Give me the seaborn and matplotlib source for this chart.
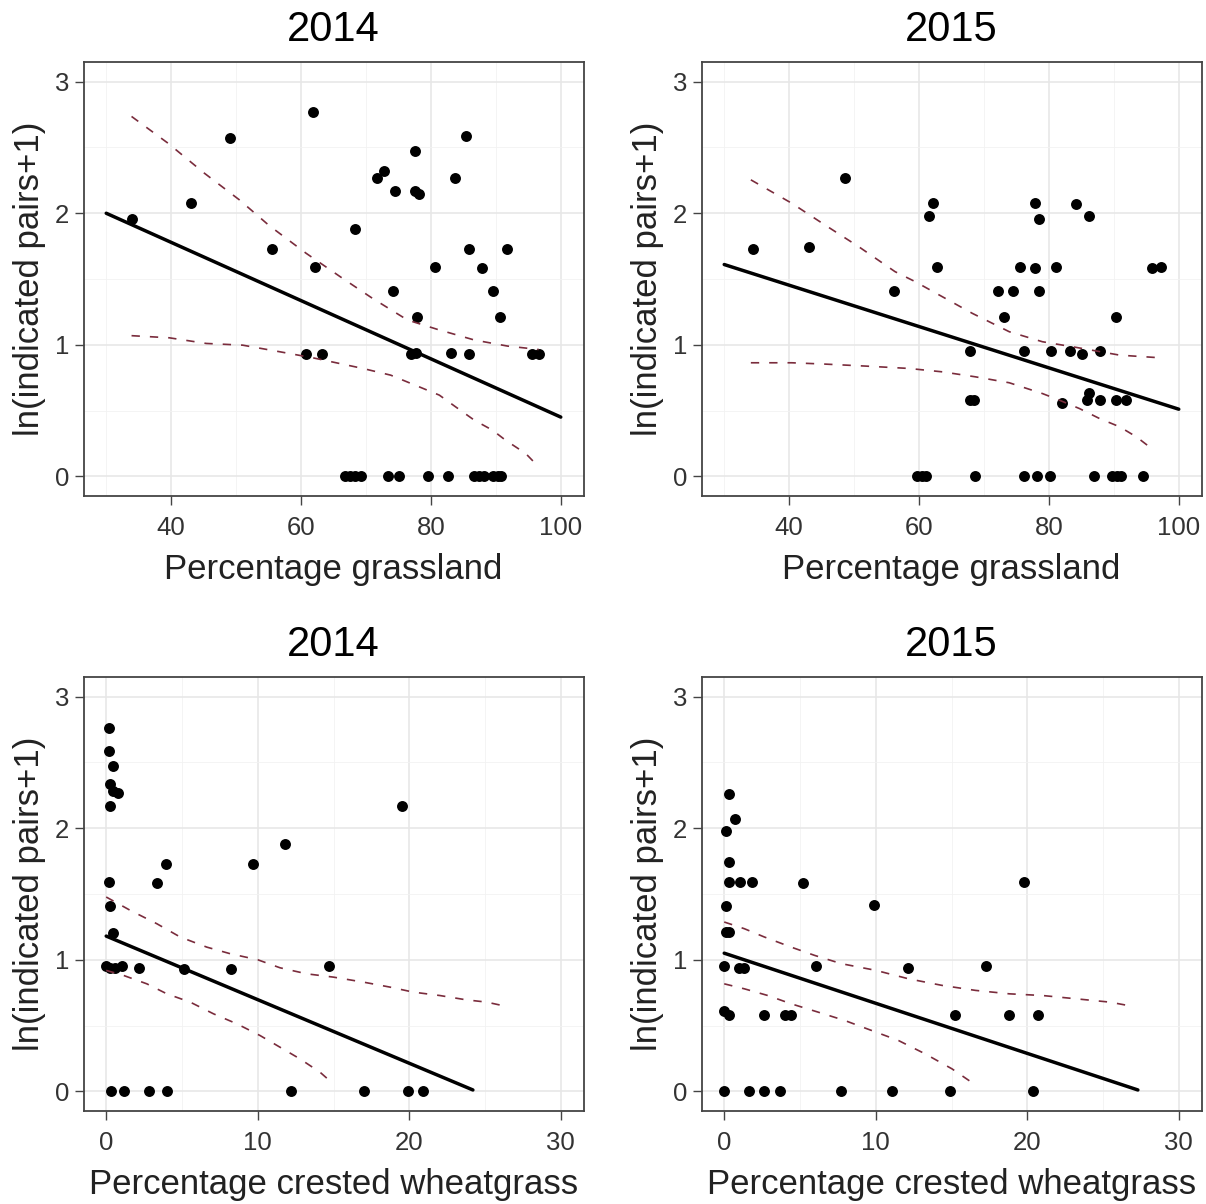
import numpy as np
import pandas as pd
import matplotlib
matplotlib.use("Agg")
import matplotlib.pyplot as plt
import seaborn as sns
from matplotlib.ticker import MultipleLocator

# ---------------- data ----------------
years = ["2014", "2015", "2014", "2015"]
x_labels = ["Percentage grassland", "Percentage grassland",
            "Percentage crested wheatgrass", "Percentage crested wheatgrass"]
y_label = "ln(indicated pairs+1)"

# 2014 - grassland
grass14_x = [33.9, 43.0, 49.1, 55.6, 61.8, 62.1, 60.8, 63.2, 68.3, 71.7, 72.7, 74.5, 74.1,
             77.6, 77.6, 78.1, 77.9, 76.9, 77.7, 80.7, 83.1, 83.7, 85.4, 85.8, 85.8, 87.8,
             89.5, 91.7, 90.6, 95.6, 96.6,
             66.8, 67.5, 68.3, 69.3, 73.4, 75.1, 79.5, 82.6, 86.7, 87.4, 88.1, 89.5, 90.3, 90.8]
grass14_y = [1.96, 2.08, 2.57, 1.73, 2.77, 1.59, 0.93, 0.93, 1.88, 2.27, 2.32, 2.17, 1.41,
             2.47, 2.17, 2.15, 1.21, 0.93, 0.94, 1.59, 0.94, 2.27, 2.59, 1.73, 0.93, 1.58,
             1.41, 1.73, 1.21, 0.93, 0.93,
             0, 0, 0, 0, 0, 0, 0, 0, 0, 0, 0, 0, 0, 0]
grass14_fit_x = [30, 100]
grass14_fit_y = [2.00, 0.45]
grass14_up_x = [33.9, 39.5, 45.1, 50.5, 55.1, 60.8, 66.4, 71.0, 76.4, 81.0, 86.7, 91.8, 96.6]
grass14_up_y = [2.736, 2.533, 2.305, 2.102, 1.906, 1.695, 1.505, 1.353, 1.188, 1.117, 1.036, 0.990, 0.964]
grass14_lo_x = [33.9, 39.7, 45.4, 51.0, 56.7, 61.8, 69.5, 73.8, 78.2, 81.3, 83.8, 86.7, 89.5, 91.5, 94.6, 96.6]
grass14_lo_y = [1.069, 1.053, 1.010, 0.997, 0.947, 0.901, 0.820, 0.769, 0.680, 0.617, 0.528, 0.426,
                0.350, 0.274, 0.173, 0.071]

# 2015 - grassland
grass15_x = [34.4, 43.0, 48.6, 56.2, 62.1, 61.6, 62.8, 67.9, 67.9, 68.5, 72.1, 74.4, 73.1,
             75.5, 76.2, 77.9, 78.4, 77.9, 78.4, 80.3, 81.1, 82.0, 83.3, 84.2, 85.1, 86.1,
             86.1, 85.9, 87.9, 87.9, 90.3, 90.3, 91.9, 95.8, 97.3,
             59.7, 60.5, 61.1, 68.6, 76.1, 78.2, 80.2, 86.9, 89.7, 90.5, 91.1, 94.5]
grass15_y = [1.73, 1.74, 2.27, 1.41, 2.08, 1.98, 1.59, 0.95, 0.58, 0.58, 1.41, 1.41, 1.21,
             1.59, 0.95, 2.08, 1.96, 1.58, 1.41, 0.95, 1.59, 0.56, 0.95, 2.07, 0.93, 1.98,
             0.63, 0.58, 0.95, 0.58, 1.21, 0.58, 0.58, 1.58, 1.59,
             0, 0, 0, 0, 0, 0, 0, 0, 0, 0, 0, 0]
grass15_fit_x = [30, 100]
grass15_fit_y = [1.61, 0.51]
grass15_up_x = [34.1, 40.4, 45.5, 50.7, 56.3, 59.4, 63.6, 68.2, 73.9, 79.0, 84.2, 90.9, 97.1]
grass15_up_y = [2.254, 2.076, 1.911, 1.746, 1.556, 1.480, 1.365, 1.239, 1.099, 1.023, 0.980, 0.921, 0.901]
grass15_lo_x = [34.1, 40.4, 45.5, 51.7, 58.4, 63.6, 68.7, 73.9, 79.0, 81.6, 84.7, 87.8, 90.9, 93.5, 95.5]
grass15_lo_y = [0.863, 0.863, 0.853, 0.838, 0.820, 0.794, 0.756, 0.711, 0.629, 0.579, 0.515, 0.439,
                0.376, 0.299, 0.223]

# 2014 - crested wheatgrass
wheat14_x = [0.18, 0.18, 0.44, 0.26, 0.48, 0.79, 0.26, 19.5, 11.8, 9.67, 3.96, 3.38, 0.18,
             0.26, 0.44, 0.0, 0.26, 0.59, 1.03, 2.15, 5.14, 8.24, 14.7,
             0.31, 1.19, 2.79, 3.98, 12.2, 17.0, 19.9, 20.9]
wheat14_y = [2.76, 2.59, 2.47, 2.34, 2.28, 2.27, 2.17, 2.17, 1.88, 1.73, 1.73, 1.58, 1.59,
             1.41, 1.20, 0.95, 0.94, 0.94, 0.95, 0.94, 0.93, 0.93, 0.95,
             0, 0, 0, 0, 0, 0, 0, 0]
wheat14_fit_x = [0, 24.2]
wheat14_fit_y = [1.18, 0.01]
wheat14_up_x = [0, 1.58, 3.34, 4.88, 6.64, 8.18, 10.0, 11.47, 13.23, 14.99, 16.97, 18.73, 20.26,
                22.02, 23.78, 25.10, 26.42]
wheat14_up_y = [1.477, 1.376, 1.274, 1.173, 1.096, 1.046, 1.000, 0.939, 0.893, 0.868, 0.830, 0.792,
                0.754, 0.728, 0.695, 0.678, 0.645]
wheat14_lo_x = [0, 1.14, 2.68, 4.0, 5.54, 7.08, 8.62, 10.15, 11.47, 12.79, 14.11, 14.99]
wheat14_lo_y = [0.919, 0.881, 0.817, 0.741, 0.678, 0.589, 0.513, 0.424, 0.335, 0.246, 0.145, 0.056]

# 2015 - crested wheatgrass
wheat15_x = [0.31, 0.71, 0.13, 0.31, 0.31, 1.06, 1.81, 5.2, 0.13, 19.8, 9.89, 0.13, 0.31,
             0.0, 1.0, 1.33, 6.04, 12.1, 17.3, 0.0, 0.31, 2.65, 3.98, 4.38, 15.2, 18.8, 20.7,
             0.0, 1.64, 2.65, 3.67, 7.7, 11.06, 14.9, 20.4]
wheat15_y = [2.26, 2.07, 1.98, 1.74, 1.59, 1.59, 1.59, 1.58, 1.41, 1.59, 1.42, 1.21, 1.21,
             0.95, 0.94, 0.94, 0.95, 0.94, 0.95, 0.61, 0.58, 0.58, 0.58, 0.58, 0.58, 0.58, 0.58,
             0, 0, 0, 0, 0, 0, 0, 0]
wheat15_fit_x = [0, 27.3]
wheat15_fit_y = [1.05, 0.01]
wheat15_up_x = [0, 1.33, 2.65, 4.42, 5.97, 7.74, 10.02, 12.17, 14.38, 16.59, 18.81, 21.02, 23.23,
                25.44, 26.99]
wheat15_up_y = [1.287, 1.236, 1.173, 1.096, 1.033, 0.970, 0.919, 0.855, 0.805, 0.767, 0.741, 0.728,
                0.703, 0.678, 0.645]
wheat15_lo_x = [0, 1.33, 2.88, 4.42, 6.19, 7.96, 9.73, 11.5, 13.27, 15.04, 16.48]
wheat15_lo_y = [0.817, 0.779, 0.728, 0.665, 0.602, 0.538, 0.462, 0.386, 0.284, 0.170, 0.056]

panels = [
    (grass14_x, grass14_y, grass14_fit_x, grass14_fit_y, grass14_up_x, grass14_up_y, grass14_lo_x, grass14_lo_y),
    (grass15_x, grass15_y, grass15_fit_x, grass15_fit_y, grass15_up_x, grass15_up_y, grass15_lo_x, grass15_lo_y),
    (wheat14_x, wheat14_y, wheat14_fit_x, wheat14_fit_y, wheat14_up_x, wheat14_up_y, wheat14_lo_x, wheat14_lo_y),
    (wheat15_x, wheat15_y, wheat15_fit_x, wheat15_fit_y, wheat15_up_x, wheat15_up_y, wheat15_lo_x, wheat15_lo_y),
]

# ---------------- style ----------------
sns.set_theme(style="whitegrid")
plt.rcParams['font.family'] = ['Liberation Sans', 'DejaVu Sans']

W, H = 1206, 1204
fig = plt.figure(figsize=(W / 100, H / 100), dpi=100)

# panel boxes in pixels: left, top, right, bottom
boxes = [(83.5, 62, 583.5, 496), (701.5, 62, 1201.5, 496),
         (83.5, 677, 583.5, 1111), (701.5, 677, 1201.5, 1111)]

band_color = "#7a2c3c"
dash = (0, (5, 6))

for i, (box, data) in enumerate(zip(boxes, panels)):
    l, t, r, b = box
    ax = fig.add_axes([l / W, 1 - b / H, (r - l) / W, (b - t) / H])
    px, py, fx, fy, ux, uy, lx, ly = data

    sns.scatterplot(x=px, y=py, color="black", s=62, linewidth=0, ax=ax, zorder=3)
    sns.lineplot(x=fx, y=fy, color="black", linewidth=2.5, ax=ax, zorder=4)
    sns.lineplot(x=ux, y=uy, color=band_color, linewidth=1.2, linestyle=dash, ax=ax, zorder=4)
    sns.lineplot(x=lx, y=ly, color=band_color, linewidth=1.2, linestyle=dash, ax=ax, zorder=4)

    if i < 2:
        ax.set_xlim(26.5, 103.5)
        ax.xaxis.set_major_locator(MultipleLocator(20))
        ax.xaxis.set_minor_locator(MultipleLocator(10))
    else:
        ax.set_xlim(-1.5, 31.5)
        ax.xaxis.set_major_locator(MultipleLocator(10))
        ax.xaxis.set_minor_locator(MultipleLocator(5))
    ax.set_ylim(-0.15, 3.15)
    ax.yaxis.set_major_locator(MultipleLocator(1))
    ax.yaxis.set_minor_locator(MultipleLocator(0.5))

    ax.set_facecolor("white")
    ax.grid(which="major", color="#E6E6E6", linewidth=1.1)
    ax.grid(which="minor", color="#F2F2F2", linewidth=0.6)
    ax.set_axisbelow(True)
    for sp in ax.spines.values():
        sp.set_visible(True)
        sp.set_color("#444444")
        sp.set_linewidth(1.3)

    ax.tick_params(which="major", length=6.5, width=1.0, color="#444444",
                   labelsize=18.5, labelcolor="#333333",
                   bottom=True, left=True, top=False, right=False)
    ax.tick_params(axis="x", which="major", pad=8)
    ax.tick_params(axis="y", which="major", pad=4)
    ax.tick_params(which="minor", length=0, bottom=False, left=False)

    ax.set_title(years[i], fontsize=30, pad=15, color="black")
    ax.set_xlabel(x_labels[i], fontsize=25, labelpad=9, color="#222222")
    ax.set_ylabel(y_label, fontsize=25, labelpad=6, color="#222222")

fig.savefig("out.png", dpi=100, facecolor="white")
